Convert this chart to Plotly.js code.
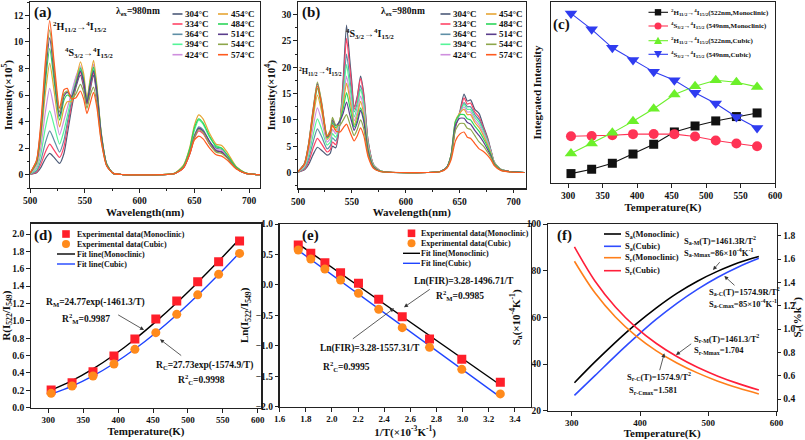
<!DOCTYPE html>
<html><head><meta charset="utf-8">
<script src="https://cdn.plot.ly/plotly-3.0.1.min.js"></script>
<style>html,body{margin:0;padding:0;background:#fff}#chart{width:805px;height:440px}</style>
</head><body><div id="chart"></div>
<script>
// ---------- DATA ----------
const tempLabels = ['304°C','334°C','364°C','394°C','424°C','454°C','484°C','514°C','544°C','574°C'];
const specColors = ['#4d5b78','#ff4466','#5f8fa6','#55f598','#cf8fde','#e6a534','#2bd65a','#5a3d8c','#8da64a','#ff5a1e'];

// (a) monoclinic spectra, intensity x1e5
const wlA = [500,506,510,514,518,522,527,531,534,538,542,546,549,552,555,558,561,565,570,576,585,620,632,640,646,650,654,658,664,670,675,680,688,697,710];
const a304 = [0.02,0.15,0.55,1.2,1.6,1.3,0.85,1.6,3.0,5.0,6.6,7.5,6.6,5.3,6.4,7.5,6.0,2.8,0.7,0.1,0.01,0,0.08,0.5,1.6,2.8,3.5,3.2,2.3,1.8,1.75,1.3,0.5,0.1,0];
const a334 = [0.03,0.2,0.8,1.7,2.3,1.85,1.3,2.1,3.5,5.3,6.8,7.7,6.8,5.4,6.6,7.7,6.2,2.9,0.75,0.1,0.01,0,0.08,0.5,1.6,2.7,3.3,3.1,2.3,1.8,1.7,1.3,0.5,0.1,0];
const a364 = [0.04,0.3,1.1,2.4,3.3,2.6,1.7,2.6,3.9,5.6,7.0,7.9,7.0,5.5,6.8,7.9,6.3,3.0,0.8,0.1,0.01,0,0.09,0.55,1.7,2.9,3.6,3.4,2.5,2.0,1.9,1.4,0.55,0.1,0];
const a394 = [0.05,0.45,1.6,3.5,4.8,3.7,2.3,3.3,4.4,5.9,7.3,8.1,7.2,5.6,7.0,8.1,6.5,3.1,0.8,0.1,0.01,0,0.1,0.6,1.9,3.3,4.1,3.8,2.8,2.2,2.0,1.5,0.6,0.12,0];
const a424 = [0.06,0.6,2.1,4.7,6.5,5.0,3.0,4.1,5.0,6.2,7.4,8.2,7.3,5.6,7.1,8.3,6.6,3.1,0.8,0.1,0.01,0,0.09,0.55,1.7,2.9,3.4,3.2,2.4,1.9,1.85,1.4,0.55,0.1,0];
const a454 = [0.08,0.8,2.8,6.1,8.4,6.3,3.6,5.0,5.5,5.5,7.0,8.5,7.6,5.7,7.3,8.6,6.8,3.2,0.8,0.1,0.01,0,0.11,0.7,2.1,3.7,4.5,4.2,3.1,2.3,2.2,1.7,0.65,0.12,0];
const a484 = [0.09,0.9,3.2,6.9,9.5,7.1,4.1,5.6,6.0,5.8,6.9,8.0,7.2,5.5,7.0,8.1,6.5,3.1,0.8,0.1,0.01,0,0.1,0.65,2.0,3.5,4.2,3.9,2.9,2.1,2.0,1.5,0.6,0.12,0];
const a514 = [0.1,1.0,3.5,7.5,10.3,7.6,4.4,5.9,6.2,5.9,6.8,7.8,7.0,5.4,6.8,7.8,6.3,3.0,0.75,0.1,0.01,0,0.09,0.55,1.7,2.9,3.5,3.3,2.5,1.8,1.7,1.3,0.5,0.1,0];
const a544 = [0.1,1.05,3.7,8.0,10.9,8.0,4.7,6.1,6.3,5.7,6.1,6.8,6.2,5.0,6.0,6.6,5.4,2.6,0.7,0.1,0.01,0,0.09,0.55,1.7,2.8,3.4,3.2,2.3,1.7,1.6,1.25,0.5,0.1,0];
const a574 = [0.12,1.1,4.0,8.5,11.6,8.5,5.0,6.4,6.5,5.7,5.8,6.3,5.7,4.6,5.4,6.2,5.1,2.5,0.65,0.1,0.01,0,0.08,0.5,1.6,2.6,2.9,2.7,2.0,1.5,1.4,1.1,0.45,0.1,0];

// (b) cubic spectra, intensity x1e4
const wlB = [500,506,510,514,518,522,527,530,532,535,539,542,545,548,550,552,555,558,561,565,570,576,585,620,632,638,642,646,650,654,657,660,664,668,672,676,679,682,688,697,710];
const b304 = [0.05,0.5,1.6,3.4,4.8,4.2,3.3,3.7,5.0,4.7,9.5,18,28,21.5,17,12.5,14.5,18.3,15,6,1.5,0.35,0.05,0,0.2,1.0,3.0,8.5,11.5,14.9,13.6,13.8,12.0,11.2,8.8,6.5,4.2,2.0,0.6,0.15,0];
const b334 = [0.06,0.65,2.1,4.6,6.5,5.4,3.9,4.4,5.8,5.3,9.6,17,25.5,20,16,12,14.2,17.9,14.5,6,1.5,0.35,0.05,0,0.2,1.0,3.0,8.7,11.3,14.2,13.0,13.2,11.5,10.5,8.5,6.2,4.1,2.0,0.6,0.15,0];
const b364 = [0.08,0.8,2.7,5.8,8.3,6.8,4.5,5.1,6.6,6.0,9.7,15.5,22.5,18,14.5,11.5,13.2,16.5,13.5,5.6,1.4,0.33,0.05,0,0.2,1.0,3.1,9.0,11.2,13.3,12.5,12.5,11.0,10.0,8.2,6.0,4.0,1.9,0.6,0.15,0];
const b394 = [0.1,1.0,3.4,7.1,10.2,8.2,5.2,5.8,7.4,6.7,9.9,14.8,20.5,16.5,13.5,10.5,12.5,15.8,13,5.4,1.4,0.32,0.05,0,0.2,1.0,3.2,9.3,11.2,13.0,12.0,12.0,10.5,9.5,7.8,5.8,3.9,1.9,0.6,0.15,0];
const b424 = [0.12,1.2,4.1,8.6,12.3,9.8,5.8,6.5,8.2,7.4,10.0,13.7,18.3,15,12.3,9.8,11.5,14.5,12,5,1.3,0.3,0.05,0,0.2,1.0,3.3,9.5,11.2,12.5,11.5,11.5,10.0,9.0,7.4,5.5,3.8,1.8,0.55,0.15,0];
const b454 = [0.14,1.5,4.9,10.3,14.7,11.5,6.3,7.1,9.0,8.1,10.2,13.2,17,14,11.5,9.0,10.8,13.5,11,4.6,1.2,0.28,0.05,0,0.2,1.0,3.4,9.8,11.3,12.0,11.0,11.0,9.5,8.5,7.0,5.2,3.6,1.8,0.55,0.15,0];
const b484 = [0.15,1.6,5.3,11.2,16.0,12.4,6.6,7.5,9.5,8.5,10.0,12.2,15.2,12.5,10.5,8.6,10.0,12.3,10.2,4.3,1.1,0.27,0.05,0,0.2,1.0,3.4,9.7,11.0,11.0,10.2,10.0,8.8,7.8,6.4,4.8,3.4,1.7,0.5,0.15,0];
const b514 = [0.16,1.7,5.6,11.8,16.9,13.0,6.8,7.8,10.0,8.9,9.8,11.3,13.4,11,9.5,8.0,9.5,11.8,9.7,4.0,1.0,0.25,0.05,0,0.2,1.0,3.2,9.0,10.3,10.3,9.5,9.2,8.0,7.0,5.8,4.3,3.1,1.6,0.5,0.15,0];
const b544 = [0.17,1.7,5.7,12.0,17.2,13.3,7.0,8.1,10.5,9.0,9.0,10.0,11,9.3,8.0,7.0,8.2,10,8.3,3.5,0.9,0.22,0.05,0,0.18,0.9,2.9,8.0,9.3,9.3,8.4,8.2,7.0,5.8,5.0,3.8,2.8,1.5,0.45,0.12,0];
const b574 = [0.16,1.6,5.4,11.5,16.4,12.7,6.9,7.8,9.0,7.9,7.7,8.5,9.2,7.8,6.8,6.0,7.0,8.5,7.0,3.0,0.8,0.2,0.05,0,0.15,0.8,2.4,6.0,7.3,7.7,6.7,6.5,5.5,4.5,4.0,3.2,2.4,1.3,0.4,0.1,0];

// (c) integrated intensity (arbitrary units)
const kelvin = [304,334,364,394,424,454,484,514,544,574];
const c522Mono  = [5.2,7.6,10.9,16.0,21.4,28.2,31.5,34.3,36.7,38.7];
const c549Mono  = [25.8,26.0,26.4,27.0,27.1,27.0,25.7,23.5,21.8,20.3];
const c522Cubic = [16.3,21.8,27.7,34.1,41.0,48.9,53.5,56.8,55.7,53.1];
const c549Cubic = [93.7,84.9,74.7,67.9,61.4,56.8,49.8,43.9,36.5,30.4];

// (d) FIR
const dMonoExp  = [0.203,0.288,0.415,0.595,0.79,1.021,1.228,1.451,1.681,1.919];
const dCubicExp = [0.165,0.25,0.365,0.503,0.672,0.864,1.075,1.30,1.536,1.777];
const dMonoFit  = [0.2025,0.312,0.447,0.607,0.789,0.991,1.2095,1.443,1.688,1.942];
const dCubicFit = [0.156,0.248,0.366,0.509,0.676,0.864,1.071,1.295,1.533,1.784];

// (e) ln(FIR) vs 1/T
const invT = [3.289,2.994,2.747,2.538,2.358,2.203,2.066,1.946,1.838,1.742];
const eMonoExp  = [-1.60,-1.222,-0.888,-0.522,-0.237,0.026,0.201,0.365,0.518,0.655];
const eCubicExp = [-1.79,-1.386,-1.025,-0.702,-0.401,-0.138,0.080,0.261,0.425,0.573];
const eFitX = [1.742,3.289];
const eMonoFit  = [0.673,-1.643];
const eCubicFit = [0.567,-1.842];

// (f) sensitivities
const fSaMono  = [32.0,40.9,49.3,57.1,64.1,70.3,75.5,79.8,83.4,86.1];
const fSaCubic = [26.6,35.0,43.5,51.6,59.2,66.0,72.0,77.2,81.6,85.3];
const fSrMono  = [1.581,1.310,1.103,0.941,0.813,0.709,0.624,0.553,0.494,0.4435];
const fSrCubic = [1.704,1.412,1.189,1.0145,0.876,0.764,0.672,0.596,0.532,0.478];

// ---------- HELPERS ----------
const FONT = 'Liberation Serif, Times New Roman, serif';
const W = 805, H = 440;
const X = px => px / W;
const Y = py => 1 - py / H;
const dom = (a, b) => [a / W, b / W];
const domY = (top, bottom) => [1 - bottom / H, 1 - top / H];

function ttl(text, standoff) {
  return {text, standoff, font:{size:11, family:FONT, weight:'bold', color:'#111'}};
}
function axis(extra) {
  return Object.assign({
    showline:true, linecolor:'#222', linewidth:1.3, mirror:true,
    ticks:'outside', ticklen:3.5, tickwidth:1, tickcolor:'#222',
    showgrid:false, zeroline:false, automargin:false,
    tickfont:{size:9.5, family:FONT, weight:'bold', color:'#111'}
  }, extra);
}
function ann(px, py, text, size, anchor) {
  return {xref:'paper', yref:'paper', x:X(px), y:Y(py), text, showarrow:false,
    xanchor:anchor || 'left', yanchor:'middle',
    font:{size, family:FONT, weight:'bold', color:'#111'}};
}
function arrow(hx, hy, tx, ty) {
  return {xref:'paper', yref:'paper', x:X(hx), y:Y(hy), ax:tx - hx, ay:ty - hy, text:'',
    showarrow:true, arrowhead:2, arrowsize:1, arrowwidth:0.8, arrowcolor:'#333', standoff:0};
}
function lineShape(x0, x1, y, color, width) {
  return {type:'line', xref:'paper', yref:'paper', x0:X(x0), x1:X(x1), y0:Y(y), y1:Y(y),
    line:{color, width: width || 1.3}};
}
function rectShape(cx, cy, s, color) {
  return {type:'rect', xref:'paper', yref:'paper', x0:X(cx - s), x1:X(cx + s), y0:Y(cy + s), y1:Y(cy - s),
    fillcolor:color, line:{width:0}};
}
function circleShape(cx, cy, r, color) {
  return {type:'circle', xref:'paper', yref:'paper', x0:X(cx - r), x1:X(cx + r), y0:Y(cy + r), y1:Y(cy - r),
    fillcolor:color, line:{width:0}};
}
function triShape(cx, cy, s, color, down) {
  const pts = down ? [[cx - s, cy - s * 0.8], [cx + s, cy - s * 0.8], [cx, cy + s]]
                   : [[cx, cy - s], [cx - s, cy + s * 0.8], [cx + s, cy + s * 0.8]];
  const path = 'M' + pts.map(p => X(p[0]) + ',' + Y(p[1])).join(' L') + ' Z';
  return {type:'path', xref:'paper', yref:'paper', path, fillcolor:color, line:{width:0}};
}

// ---------- TRACES ----------
const traces = [];
const specA = [a304,a334,a364,a394,a424,a454,a484,a514,a544,a574];
const specB = [b304,b334,b364,b394,b424,b454,b484,b514,b544,b574];
specA.forEach((s, i) => traces.push({x:wlA, y:s, xaxis:'x', yaxis:'y', mode:'lines', name:tempLabels[i],
  showlegend:false, line:{color:specColors[i], width:1.2, shape:'spline', smoothing:0.6}}));
specB.forEach((s, i) => traces.push({x:wlB, y:s, xaxis:'x2', yaxis:'y2', mode:'lines', name:tempLabels[i],
  showlegend:false, line:{color:specColors[i], width:1.2, shape:'spline', smoothing:0.6}}));

const cBlack = '#111111', cRed = '#ff3355', cGreen = '#6cf02a', cBlue = '#2f3cf0';
traces.push({x:kelvin, y:c522Mono, xaxis:'x3', yaxis:'y3', mode:'lines+markers', showlegend:false,
  line:{color:cBlack, width:1.1}, marker:{symbol:'square', size:9, color:cBlack}});
traces.push({x:kelvin, y:c549Mono, xaxis:'x3', yaxis:'y3', mode:'lines+markers', showlegend:false,
  line:{color:cRed, width:1.1}, marker:{symbol:'circle', size:10, color:cRed}});
traces.push({x:kelvin, y:c522Cubic, xaxis:'x3', yaxis:'y3', mode:'lines+markers', showlegend:false,
  line:{color:cGreen, width:1.1}, marker:{symbol:'triangle-up', size:11, color:cGreen}});
traces.push({x:kelvin, y:c549Cubic, xaxis:'x3', yaxis:'y3', mode:'lines+markers', showlegend:false,
  line:{color:cBlue, width:1.1}, marker:{symbol:'triangle-down', size:11, color:cBlue}});

const dRed = '#ff1f2a', dOrange = '#ff8a1c', dBlue = '#1f44ff';
traces.push({x:kelvin, y:dMonoFit, xaxis:'x4', yaxis:'y4', mode:'lines', showlegend:false,
  line:{color:'#000', width:1.4, shape:'spline'}});
traces.push({x:kelvin, y:dCubicFit, xaxis:'x4', yaxis:'y4', mode:'lines', showlegend:false,
  line:{color:dBlue, width:1.4, shape:'spline'}});
traces.push({x:kelvin, y:dMonoExp, xaxis:'x4', yaxis:'y4', mode:'markers', showlegend:false,
  marker:{symbol:'square', size:9, color:dRed}});
traces.push({x:kelvin, y:dCubicExp, xaxis:'x4', yaxis:'y4', mode:'markers', showlegend:false,
  marker:{symbol:'circle', size:9, color:dOrange}});

traces.push({x:eFitX, y:eMonoFit, xaxis:'x5', yaxis:'y5', mode:'lines', showlegend:false,
  line:{color:'#000', width:1.4}});
traces.push({x:eFitX, y:eCubicFit, xaxis:'x5', yaxis:'y5', mode:'lines', showlegend:false,
  line:{color:dBlue, width:1.4}});
traces.push({x:invT, y:eMonoExp, xaxis:'x5', yaxis:'y5', mode:'markers', showlegend:false,
  marker:{symbol:'square', size:9, color:dRed}});
traces.push({x:invT, y:eCubicExp, xaxis:'x5', yaxis:'y5', mode:'markers', showlegend:false,
  marker:{symbol:'circle', size:9, color:dOrange}});

const fBlack = '#000', fBlue = '#2f4cff', fOrange = '#ff7f1a', fRed = '#ff1f3a';
traces.push({x:kelvin, y:fSaMono, xaxis:'x6', yaxis:'y6', mode:'lines', showlegend:false,
  line:{color:fBlack, width:1.6, shape:'spline'}});
traces.push({x:kelvin, y:fSaCubic, xaxis:'x6', yaxis:'y6', mode:'lines', showlegend:false,
  line:{color:fBlue, width:1.6, shape:'spline'}});
traces.push({x:kelvin, y:fSrMono, xaxis:'x6', yaxis:'y7', mode:'lines', showlegend:false,
  line:{color:fOrange, width:1.6, shape:'spline'}});
traces.push({x:kelvin, y:fSrCubic, xaxis:'x6', yaxis:'y7', mode:'lines', showlegend:false,
  line:{color:fRed, width:1.6, shape:'spline'}});

// ---------- LAYOUT ----------
const shapes = [];
const annotations = [];

// legends (a) and (b)
const rowsAB = [14, 24, 34.3, 44.3, 54.7];
tempLabels.forEach((lab, i) => {
  const r = rowsAB[i % 5];
  const colA = i < 5 ? [172.5, 182.5, 183] : [218, 228, 229];
  const colB = i < 5 ? [440.5, 450.5, 451] : [486, 496.5, 497];
  shapes.push(lineShape(colA[0], colA[1], r, specColors[i], 1.6));
  annotations.push(ann(colA[2], r, lab, 9));
  shapes.push(lineShape(colB[0], colB[1], r, specColors[i], 1.6));
  annotations.push(ann(colB[2], r, lab, 9));
});

// legend (c)
const rowsC = [12.3, 26, 40.7, 54.3];
const cLeg = [
  [cBlack, 'sq', '<sup>2</sup>H<sub>11/2</sub>→<sup>4</sup>I<sub>15/2</sub>(522nm,Monoclinic)'],
  [cRed, 'ci', '<sup>4</sup>S<sub>3/2</sub>→<sup>4</sup>I<sub>15/2</sub> (549nm,Monoclinic)'],
  [cGreen, 'tu', '<sup>2</sup>H<sub>11/2</sub>→<sup>4</sup>I<sub>15/2</sub>(522nm,Cubic)'],
  [cBlue, 'td', '<sup>4</sup>S<sub>3/2</sub>→<sup>4</sup>I<sub>15/2</sub> (549nm,Cubic)']
];
cLeg.forEach((e, i) => {
  const r = rowsC[i];
  shapes.push(lineShape(648.5, 668, r, e[0], 1.1));
  if (e[1] === 'sq') shapes.push(rectShape(658, r, 3.2, e[0]));
  if (e[1] === 'ci') shapes.push(circleShape(658, r, 3.5, e[0]));
  if (e[1] === 'tu') shapes.push(triShape(658, r, 4, e[0], false));
  if (e[1] === 'td') shapes.push(triShape(658, r, 4, e[0], true));
  annotations.push(ann(668.5, r, e[2], 7));
});

// legend (d) and (e)
function fitLegend(mx, lx0, lx1, tx, rows) {
  shapes.push(rectShape(mx, rows[0], 3.8, dRed));
  shapes.push(circleShape(mx, rows[1], 4, dOrange));
  shapes.push(lineShape(lx0, lx1, rows[2], '#000', 1.4));
  shapes.push(lineShape(lx0, lx1, rows[3], dBlue, 1.4));
  annotations.push(ann(tx, rows[0], 'Experimental data(Monoclinic)', 8));
  annotations.push(ann(tx, rows[1], 'Experimental data(Cubic)', 8));
  annotations.push(ann(tx, rows[2], 'Fit line(Monoclinic)', 8));
  annotations.push(ann(tx, rows[3], 'Fit line(Cubic)', 8));
}
fitLegend(66, 57, 75, 74.5, [234, 244, 254, 264]);
fitLegend(411.5, 403, 420, 419, [233.3, 243.3, 253.3, 263.3]);

// legend (f)
const rowsF = [234, 246.3, 257.7, 270.7];
const fLeg = [[fBlack, 'S<sub>a</sub>(Monoclinic)'], [fBlue, 'S<sub>a</sub>(Cubic)'],
              [fOrange, 'S<sub>r</sub>(Monoclinic)'], [fRed, 'S<sub>r</sub>(Cubic)']];
fLeg.forEach((e, i) => {
  shapes.push(lineShape(604, 621, rowsF[i], e[0], 1.6));
  annotations.push(ann(622.5, rowsF[i], e[1], 8.5));
});

// panel labels and texts
annotations.push(ann(32, 13, '(a)', 15), ann(300, 13, '(b)', 15), ann(551, 25, '(c)', 15),
  ann(32, 235, '(d)', 15), ann(300, 235, '(e)', 15), ann(555, 235, '(f)', 15));
annotations.push(ann(114, 11.7, 'λ<sub>ex</sub>=980nm', 9.5), ann(379, 11.7, 'λ<sub>ex</sub>=980nm', 9.5));
annotations.push(ann(51, 27, '<sup>2</sup>H<sub>11/2</sub>→<sup>4</sup>I<sub>15/2</sub>', 10));
annotations.push(ann(63, 53, '<sup>4</sup>S<sub>3/2</sub>→<sup>4</sup>I<sub>15/2</sub>', 10));
annotations.push(ann(344, 34.5, '<sup>4</sup>S<sub>3/2</sub>→<sup>4</sup>I<sub>15/2</sub>', 10));
annotations.push(ann(297, 72, '<sup>2</sup>H<sub>11/2</sub>→<sup>4</sup>I<sub>15/2</sub>', 8));

// (d) notes
annotations.push(ann(44, 302, 'R<sub>M</sub>=24.77exp(-1461.3/T)', 9.5));
annotations.push(ann(60, 318.5, 'R<sup>2</sup><sub>M</sub>=0.9987', 9.5));
annotations.push(arrow(144, 330, 116.7, 314));
annotations.push(ann(154, 365, 'R<sub>C</sub>=27.73exp(-1574.9/T)', 9.5));
annotations.push(ann(176, 379.5, 'R<sup>2</sup><sub>C</sub>=0.9998', 9.5));
annotations.push(arrow(160, 339.3, 182.7, 356.7));
// (e) notes
annotations.push(ann(412, 281, 'Ln(FIR)=3.28-1496.71/T', 9.5));
annotations.push(ann(434, 295, 'R<sup>2</sup><sub>M</sub>=0.9985', 9.5));
annotations.push(arrow(404, 307.3, 431.3, 288.3));
annotations.push(ann(318, 348.3, 'Ln(FIR)=3.28-1557.31/T', 9.5));
annotations.push(ann(321, 366.7, 'R<sup>2</sup><sub>C</sub>=0.9995', 9.5));
annotations.push(arrow(394, 308.3, 351.3, 340));
// (f) notes
annotations.push(ann(682, 240.7, 'S<sub>a-M</sub>(T)=1461.3R/T<sup>2</sup>', 8.5));
annotations.push(ann(682, 252.3, 'S<sub>a-Mmax</sub>=86×10<sup>-4</sup>K<sup>-1</sup>', 8.5));
annotations.push(arrow(713, 270, 721, 260.7));
annotations.push(ann(707, 291.7, 'S<sub>a-C</sub>(T)=1574.9R/T<sup>2</sup>', 8.5));
annotations.push(ann(707, 303.3, 'S<sub>a-Cmax</sub>=85×10<sup>-4</sup>K<sup>-1</sup>', 8.5));
annotations.push(arrow(724.3, 276, 736, 286.7));
annotations.push(ann(692, 338.3, 'S<sub>r-M</sub>(T)=1461.3/T<sup>2</sup>', 8.5));
annotations.push(ann(692, 350, 'S<sub>r-Mmax</sub>=1.704', 8.5));
annotations.push(arrow(676, 355, 692.7, 342.7));
annotations.push(ann(625, 376.7, 'S<sub>r-C</sub>(T)=1574.9/T<sup>2</sup>', 8.5));
annotations.push(ann(627, 390, 'S<sub>r-Cmax</sub>=1.581', 8.5));
annotations.push(arrow(664.3, 353.3, 659.3, 371.7));

const botTick = {size:9, family:FONT, weight:'bold', color:'#111'};
const layout = {
  width: W, height: H, margin:{l:0, r:0, t:0, b:0}, showlegend:false,
  paper_bgcolor:'#fff', plot_bgcolor:'#fff',
  font:{family:FONT, size:10, color:'#111', weight:'bold'},
  xaxis: axis({domain:dom(30, 260), range:[500, 710], anchor:'y', tickvals:[500,550,600,650,700],
    minor:{ticks:'outside', ticklen:2, dtick:25}, title:ttl('Wavelength(nm)', 2)}),
  yaxis: axis({domain:domY(2, 188), range:[-1, 13], anchor:'x', tickvals:[0,2,4,6,8,10,12],
    minor:{ticks:'outside', ticklen:2, dtick:1}, title:ttl('Intensity(×10<sup>5</sup>)', 4)}),
  xaxis2: axis({domain:dom(298, 525.5), range:[500, 711], anchor:'y2', tickvals:[500,550,600,650,700],
    minor:{ticks:'outside', ticklen:2, dtick:25}, title:ttl('Wavelength(nm)', 2)}),
  yaxis2: axis({domain:domY(2, 188.3), range:[-3, 32.4], anchor:'x2', tickvals:[0,5,10,15,20,25,30],
    minor:{ticks:'outside', ticklen:2, dtick:2.5}, title:ttl('Intensity(×10<sup>4</sup>)', 4)}),
  xaxis3: axis({domain:dom(551, 775), range:[275, 600], anchor:'y3', tickvals:[300,350,400,450,500,550,600],
    title:ttl('Temperature(K)', 2)}),
  yaxis3: axis({domain:domY(2, 183), range:[0, 100], anchor:'x3', showticklabels:false, ticks:'',
    title:ttl('Integrated Intensity', 6)}),
  xaxis4: axis({domain:dom(30.9, 261.2), range:[275, 605], anchor:'y4', tickvals:[300,350,400,450,500,550,600],
    tickfont:botTick, title:ttl('Temperature(K)', 3)}),
  yaxis4: axis({domain:domY(223.6, 407.7), range:[0, 2.12], anchor:'x4',
    tickvals:[0,0.2,0.4,0.6,0.8,1.0,1.2,1.4,1.6,1.8,2.0], tickformat:'.1f',
    title:ttl('R(I<sub>522</sub>/I<sub>549</sub>)', 4)}),
  xaxis5: axis({domain:dom(279.7, 530.5), range:[1.6, 3.52], anchor:'y5',
    tickvals:[1.6,1.8,2.0,2.2,2.4,2.6,2.8,3.0,3.2,3.4], tickformat:'.1f',
    tickfont:botTick, title:ttl('1/T(×10<sup>-3</sup>K<sup>-1</sup>)', 2)}),
  yaxis5: axis({domain:domY(224, 406.7), range:[-2, 1], anchor:'x5',
    tickvals:[-2,-1.5,-1,-0.5,0,0.5,1], tickformat:'.1f',
    title:ttl('Ln(I<sub>522</sub>/I<sub>549</sub>)', 4)}),
  xaxis6: axis({domain:dom(547.8, 776.6), range:[265, 600], anchor:'y6', tickvals:[300,400,500,600],
    tickfont:botTick, title:ttl('Temperature(K)', 3)}),
  yaxis6: axis({domain:domY(224, 410.7), range:[20, 100], anchor:'x6', mirror:false,
    tickvals:[20,40,60,80,100], title:ttl('S<sub>a</sub>(×10<sup>-4</sup>K<sup>-1</sup>)', 4)}),
  yaxis7: axis({range:[0.3, 1.9], anchor:'x6', overlaying:'y6', side:'right', mirror:false,
    tickvals:[0.4,0.6,0.8,1.0,1.2,1.4,1.6,1.8], tickformat:'.1f',
    title:ttl('S<sub>r</sub>(%k<sup>-1</sup>)', 4)}),
  shapes, annotations
};

Plotly.newPlot('chart', traces, layout, {staticPlot:true, displayModeBar:false});
</script>
</body></html>
